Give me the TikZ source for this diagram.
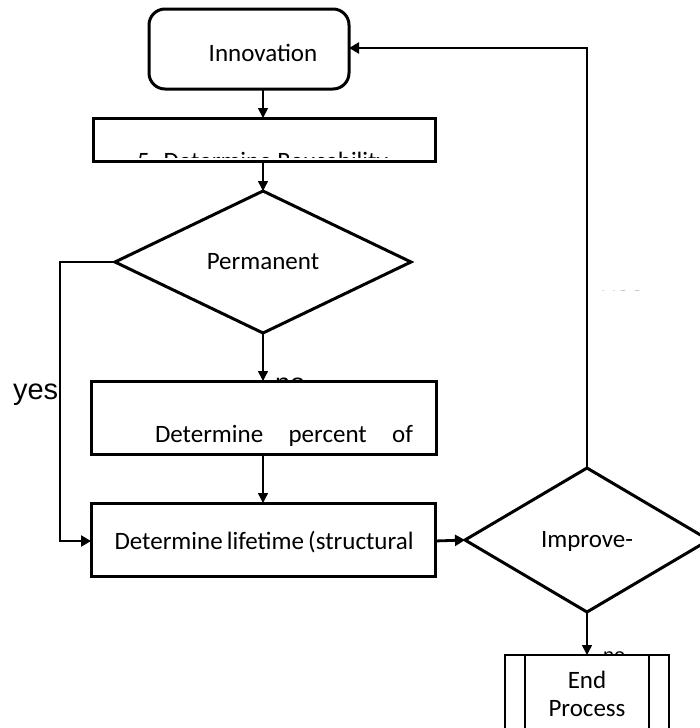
\documentclass[tikz,border=0pt]{standalone}
\usepackage{fontspec}
\setmainfont{Carlito}
\newfontfamily\arialf{Liberation Sans}
\usetikzlibrary{arrows.meta,shapes.geometric}
\begin{document}
\begin{tikzpicture}[x=1pt,y=-1pt,
  every node/.style={outer sep=0pt},
  boxthick/.style={draw, line width=3pt, fill=white, inner sep=0pt},
  conn/.style={line width=1.5pt},
  arr/.style={conn, -{Triangle[length=10pt,width=10pt]}},
  bigarr/.style={line width=2.8pt, -{Triangle[length=10pt,width=11pt]}},
  lbl/.style={font=\fontsize{25}{30}\selectfont, inner sep=0pt},
  albl/.style={font=\arialf\fontsize{27}{30}\selectfont, inner sep=0pt}]
\useasboundingbox (0,0) rectangle (700,728);
\clip (0,0) rectangle (700,728);
% nodes
\node[boxthick, rounded corners=16pt, minimum width=200pt, minimum height=80pt] (innov) at (249,49) {};
\node[lbl, anchor=base] (innovt) at (263,61) {Innovation};
\node[boxthick, minimum width=342pt, minimum height=43pt] (reuse) at (264,139.5) {};
\begin{scope}
\clip (95,120) rectangle (433,157.5);
\node[lbl, anchor=base west] (reuset) at (137,169) {5. Determine Reusability};
\end{scope}
\node[draw, line width=3pt, diamond, aspect=2.08, minimum width=296pt, minimum height=142pt, inner sep=0pt] (perm) at (263,262) {};
\node[lbl] (permt) at (263,262) {Permanent};
% "no" label behind box
\node[albl, anchor=base west] (no1) at (275,392) {no};
\node[boxthick, minimum width=345pt, minimum height=73pt] (pct) at (263.5,417.5) {};
\node[lbl, anchor=base west] (pctt) at (155,442) {\makebox[258pt][l]{Determine\hfill percent\hfill of}};
\node[boxthick, minimum width=344pt, minimum height=73pt] (life) at (263,539.5) {};
\node[lbl, anchor=base] (lifet) at (264,549) {Determine\,lifetime\,(structural};
\node[draw, line width=3pt, diamond, aspect=1.7, minimum width=244pt, minimum height=144pt, inner sep=0pt] (impr) at (587,540) {};
\node[lbl] (imprt) at (587,541) {Improve-};
% right "yes" label (mostly hidden)
\begin{scope}
\clip (595,286) rectangle (645,290);
\node[albl, anchor=base west, text=gray] (yes2) at (602,305) {yes};
\end{scope}
% right "no" label behind End Process
\node[albl, anchor=base west, font=\arialf\fontsize{20}{24}\selectfont] (no2) at (603,662) {no};
\node[draw, line width=1.4pt, fill=white, minimum width=164pt, minimum height=90pt, inner sep=0pt] (endp) at (587,700) {};
\draw[line width=1.4pt] (525,655) -- (525,745);
\draw[line width=1.4pt] (649,655) -- (649,745);
\node[lbl, align=center, font=\fontsize{25}{28}\selectfont] (endt) at (587,694) {End\\Process};
% yes label left
\node[albl, anchor=base west, font=\arialf\fontsize{29}{32}\selectfont] (yes1) at (13,399) {yes};
% connectors
\draw[arr] (innov.south -| 263,0) -- (reuse.north -| 263,0);
\draw[arr] (reuse.south -| 263,0) -- (perm.north);
\draw[arr] (perm.south) -- (pct.north -| perm.south);
\draw[arr] (pct.south -| perm.south) -- (life.north -| perm.south);
\draw[bigarr] (perm.west) -- (60,262) -- (60,541) -- (life.west |- 0,541);
\draw[bigarr] (life.east |- 0,541) -- (impr.west);
\draw[bigarr] (impr.north) -- (587,48) -- (innov.east |- 0,48);
\draw[arr] (impr.south) -- (endp.north);
\end{tikzpicture}
\end{document}
